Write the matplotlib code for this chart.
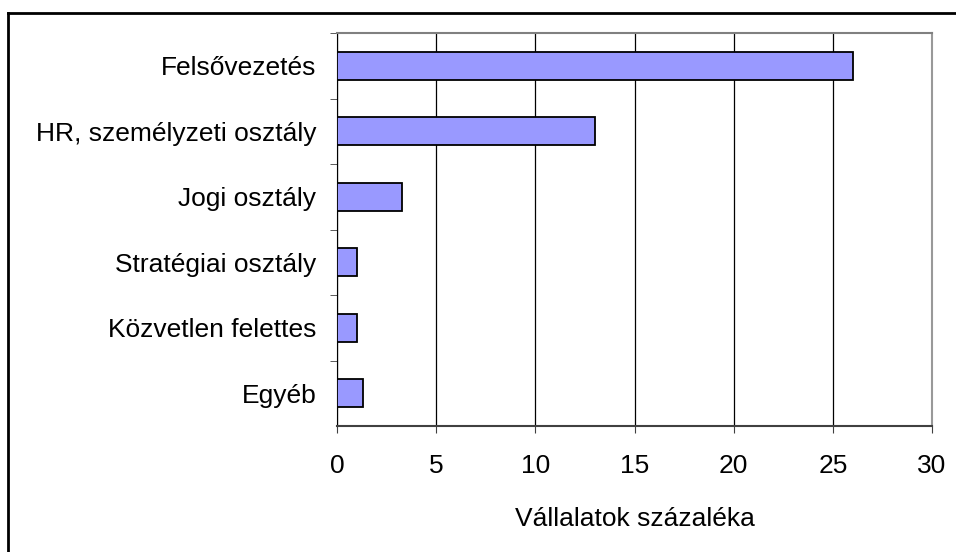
import matplotlib.pyplot as plt
from matplotlib.lines import Line2D

plt.rcParams['font.family'] = ['Liberation Sans', 'DejaVu Sans']

# Data
categories = ['Felsővezetés', 'HR, személyzeti osztály', 'Jogi osztály',
              'Stratégiai osztály', 'Közvetlen felettes', 'Egyéb']
values = [26.0, 13.0, 3.3, 1.0, 1.0, 1.3]
xticks = [0, 5, 10, 15, 20, 25, 30]

fs = 19
fig = plt.figure(figsize=(9.56, 5.52), dpi=100)
ax = fig.add_axes([337/956, 1 - 426/552, (932 - 337)/956, (426 - 33)/552])

pos = list(range(len(categories)))[::-1]
ax.barh(pos, values, height=0.42, color='#9999FF', edgecolor='black', linewidth=1.3, zorder=3)

ax.set_xlim(0, 30)
ax.set_ylim(-0.5, len(categories) - 0.5)
ax.set_xticks(xticks)
ax.set_yticks(pos)
ax.set_yticklabels(categories)
ax.set_yticks([p + 0.5 for p in range(len(categories))], minor=True)
ax.tick_params(axis='y', which='major', length=0, labelsize=fs, pad=15)
ax.tick_params(axis='y', which='minor', length=5, direction='out', color='#404040')
ax.tick_params(axis='x', length=5, direction='out', labelsize=fs, pad=15, color='#404040')
ax.grid(axis='x', color='black', linewidth=0.9, zorder=0)
ax.set_xlabel('Vállalatok százaléka', fontsize=fs, labelpad=21)

ax.spines['left'].set_color('black')
ax.spines['bottom'].set_color('#404040')
ax.spines['bottom'].set_linewidth(1.5)
ax.spines['top'].set_color('#808080')
ax.spines['top'].set_linewidth(1.5)
ax.spines['right'].set_color('#999999')
ax.spines['right'].set_linewidth(1.5)

# outer border (top and left only visible)
fig.add_artist(Line2D([8/956, 1], [1 - 13/552, 1 - 13/552], color='black', linewidth=2, transform=fig.transFigure))
fig.add_artist(Line2D([8/956, 8/956], [0, 1 - 13/552], color='black', linewidth=2, transform=fig.transFigure))

fig.savefig('out.png', dpi=100)
